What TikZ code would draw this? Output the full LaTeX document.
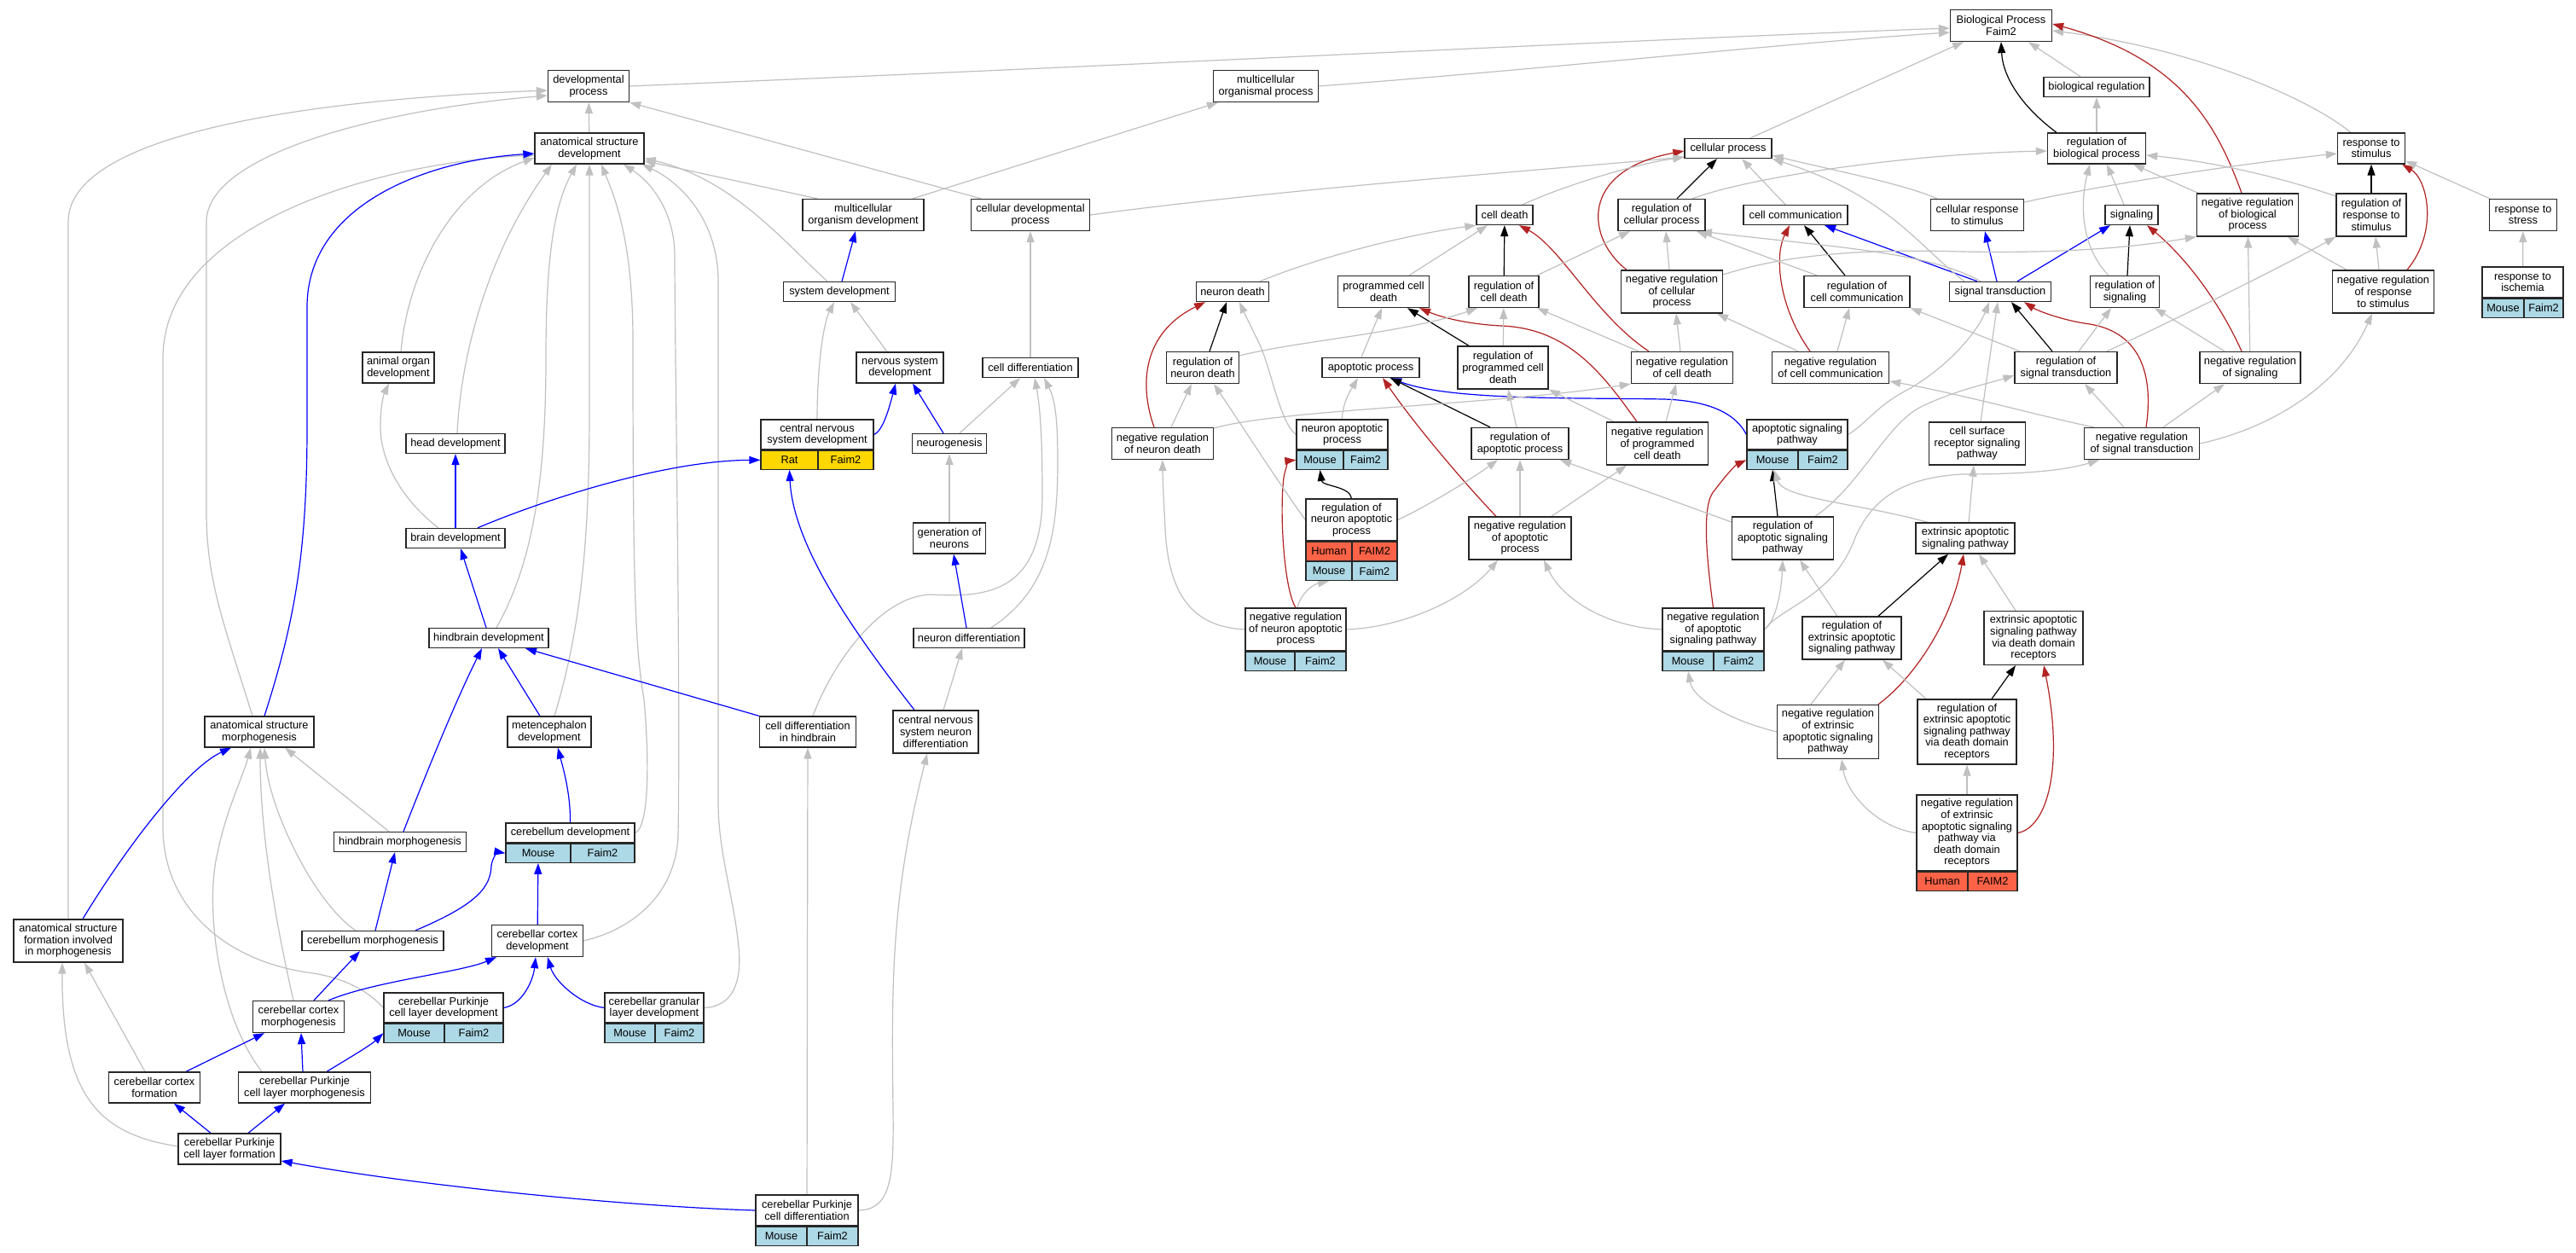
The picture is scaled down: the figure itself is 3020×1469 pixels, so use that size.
\documentclass[tikz,border=0pt]{standalone}
\usepackage{fontspec}
\setmainfont{Liberation Sans}
\usetikzlibrary{arrows.meta}
\definecolor{eg}{HTML}{C0C0C0}
\definecolor{lb}{HTML}{ADD8E6}
\definecolor{gd}{HTML}{FFD700}
\definecolor{tm}{HTML}{FF6347}
\definecolor{rd}{HTML}{B22222}
\definecolor{bl}{HTML}{0000FF}
\pgfdeclarelayer{bg}
\pgfsetlayers{bg,main}
\tikzset{
 term/.style={draw=black!85, line width=1.3pt, fill=white, align=center, inner sep=0pt, font=\fontsize{12.8}{13.6}\selectfont},
 cellbox/.style={draw=black!85, line width=1.3pt, fill=#1, inner sep=0pt, minimum height=22pt, font=\fontsize{12.8}{13.6}\selectfont},
 conn/.style={line width=1.2pt, -{Triangle[length=13pt,width=9pt]}},
 isa/.style={conn, draw=eg},
 partof/.style={conn, draw=bl},
 reg/.style={conn, draw=black},
 nreg/.style={conn, draw=rd},
}
\newcommand\GO[6]{\node[term,minimum width=#4pt,minimum height=#5pt] (#1) at (#2,#3) {#6};}
\newcommand\CL[6]{\node[cellbox=#6, minimum width=#3pt, anchor=#4] (#1) at (#2) {#5};}
\begin{document}
\begin{tikzpicture}[x=1pt,y=-1pt]
\begin{pgfonlayer}{bg}
\fill[white] (0,0) rectangle (3020,1469);
\end{pgfonlayer}
\useasboundingbox (0,0) rectangle (3020,1469);
% ---------------- nodes
\GO{bp}{2346}{30}{119}{37}{Biological Process\\Faim2}
\GO{dp}{690}{101}{95}{37}{developmental\\process}
\GO{mop}{1484}{101}{123}{37}{multicellular\\organismal process}
\GO{asd}{691}{174}{128}{36}{anatomical structure\\development}
\GO{br}{2458}{102}{124}{23}{biological regulation}
\GO{cp}{2026}{174}{102}{23}{cellular process}
\GO{rbp}{2458}{174}{115}{36}{regulation of\\biological process}
\GO{rs}{2780}{174}{79}{36}{response to\\stimulus}
\GO{mod}{1012}{252}{142}{37}{multicellular\\organism development}
\GO{cdp}{1208}{252}{139}{37}{cellular developmental\\process}
\GO{cdeath}{1764}{252}{66}{23}{cell death}
\GO{rcp}{1948}{252}{102}{37}{regulation of\\cellular process}
\GO{cc}{2105}{252}{122}{23}{cell communication}
\GO{crs}{2318}{252}{109}{37}{cellular response\\to stimulus}
\GO{sig}{2499}{252}{62}{23}{signaling}
\GO{nrbp}{2635}{252}{119}{50}{negative regulation\\of biological\\process}
\GO{rrs}{2780}{252}{82}{50}{regulation of\\response to\\stimulus}
\GO{rstress}{2958}{252}{79}{37}{response to\\stress}
\GO{sd}{984}{342}{131}{23}{system development}
\GO{ndeath}{1445}{342}{85}{23}{neuron death}
\GO{pcd}{1622}{342}{107}{37}{programmed cell\\death}
\GO{rcd}{1763}{342}{82}{37}{regulation of\\cell death}
\GO{nrcp}{1960}{342}{119}{50}{negative regulation\\of cellular\\process}
\GO{rcc}{2177}{342}{124}{37}{regulation of\\cell communication}
\GO{st}{2345}{342}{119}{23}{signal transduction}
\GO{rsig}{2491}{342}{81}{37}{regulation of\\signaling}
\GO{nrrs}{2794}{342}{119}{50}{negative regulation\\of response\\to stimulus}
\GO{risch}{2957.5}{331}{95}{36}{response to\\ischemia}
\GO{aod}{467}{431}{84}{36}{animal organ\\development}
\GO{nsd}{1055}{431}{102}{36}{nervous system\\development}
\GO{cdiff}{1208}{431}{112}{23}{cell differentiation}
\GO{rnd}{1410}{431}{85}{37}{regulation of\\neuron death}
\GO{ap}{1607}{431}{114}{23}{apoptotic process}
\GO{rpcd}{1762}{431}{106}{50}{regulation of\\programmed cell\\death}
\GO{nrcd}{1972}{431}{119}{37}{negative regulation\\of cell death}
\GO{nrcc}{2146}{431}{137}{37}{negative regulation\\of cell communication}
\GO{rst}{2422}{431}{120}{37}{regulation of\\signal transduction}
\GO{nrsig}{2638}{431}{118}{37}{negative regulation\\of signaling}
\GO{hd}{534}{520}{116}{23}{head development}
\GO{cnsd}{958}{509.5}{132}{35}{central nervous\\system development}
\GO{neuro}{1113}{520}{87}{23}{neurogenesis}
\GO{nrnd}{1363}{520}{119}{37}{negative regulation\\of neuron death}
\GO{nap}{1573.5}{509.5}{107}{35}{neuron apoptotic\\process}
\GO{rap}{1782}{520}{114}{37}{regulation of\\apoptotic process}
\GO{nrpcd}{1943}{520}{119}{50}{negative regulation\\of programmed\\cell death}
\GO{asp}{2107}{509.5}{118}{35}{apoptotic signaling\\pathway}
\GO{csrsp}{2318}{520}{113}{50}{cell surface\\receptor signaling\\pathway}
\GO{nrst}{2511}{520}{135}{37}{negative regulation\\of signal transduction}
\GO{bd}{534}{631}{116}{23}{brain development}
\GO{gon}{1113}{631}{85}{36}{generation of\\neurons}
\GO{rnap}{1584.5}{609.5}{107}{49}{regulation of\\neuron apoptotic\\process}
\GO{nrap}{1782}{631}{120}{50}{negative regulation\\of apoptotic\\process}
\GO{rasp}{2090}{631}{119}{50}{regulation of\\apoptotic signaling\\pathway}
\GO{easp}{2304}{631}{116}{36}{extrinsic apoptotic\\signaling pathway}
\GO{hbd}{573}{748}{140}{23}{hindbrain development}
\GO{nd}{1136}{748}{130}{23}{neuron differentiation}
\GO{nrnap}{1519}{738}{118}{50}{negative regulation\\of neuron apoptotic\\process}
\GO{nrasp}{2008.5}{738}{119}{50}{negative regulation\\of apoptotic\\signaling pathway}
\GO{reasp}{2171}{748}{116}{50}{regulation of\\extrinsic apoptotic\\signaling pathway}
\GO{easpddr}{2384}{748}{116}{63}{extrinsic apoptotic\\signaling pathway\\via death domain\\receptors}
\GO{asm}{304}{858}{128}{36}{anatomical structure\\morphogenesis}
\GO{med}{644}{858}{98}{36}{metencephalon\\development}
\GO{cdh}{947}{858}{113}{36}{cell differentiation\\in hindbrain}
\GO{cnsnd}{1097}{858}{100}{50}{central nervous\\system neuron\\differentiation}
\GO{nreasp}{2143}{858}{119}{63}{negative regulation\\of extrinsic\\apoptotic signaling\\pathway}
\GO{reaspddr}{2306}{858}{116}{76}{regulation of\\extrinsic apoptotic\\signaling pathway\\via death domain\\receptors}
\GO{hbm}{469}{987}{155}{23}{hindbrain morphogenesis}
\GO{cbd}{668.5}{976.5}{151}{23}{cerebellum development}
\GO{nreaspddr}{2306}{976.5}{118}{89}{negative regulation\\of extrinsic\\apoptotic signaling\\pathway via\\death domain\\receptors}
\GO{asfim}{80}{1103}{128}{50}{anatomical structure\\formation involved\\in morphogenesis}
\GO{cbm}{437}{1103}{166}{23}{cerebellum morphogenesis}
\GO{ccd}{630}{1103}{107}{37}{cerebellar cortex\\development}
\GO{cpld}{520}{1181.5}{140}{35}{cerebellar Purkinje\\cell layer development}
\GO{cgld}{767}{1181.5}{116}{35}{cerebellar granular\\layer development}
\GO{ccm}{350}{1192}{107}{37}{cerebellar cortex\\morphogenesis}
\GO{ccf}{181}{1275}{107}{36}{cerebellar cortex\\formation}
\GO{cplm}{357}{1275}{155}{36}{cerebellar Purkinje\\cell layer morphogenesis}
\GO{cplf}{269}{1347}{120}{36}{cerebellar Purkinje\\cell layer formation}
\GO{cpcd}{946}{1419}{120}{36}{cerebellar Purkinje\\cell differentiation}
% species rows
\CL{cnsd-a}{cnsd.south west}{67}{north west}{Rat}{gd}
\CL{cnsd-b}{cnsd.south east}{65}{north east}{Faim2}{gd}
\CL{risch-a}{risch.south west}{49}{north west}{Mouse}{lb}
\CL{risch-b}{risch.south east}{46}{north east}{Faim2}{lb}
\CL{nap-a}{nap.south west}{55}{north west}{Mouse}{lb}
\CL{nap-b}{nap.south east}{52}{north east}{Faim2}{lb}
\CL{asp-a}{asp.south west}{60}{north west}{Mouse}{lb}
\CL{asp-b}{asp.south east}{58}{north east}{Faim2}{lb}
\CL{rnap-a}{rnap.south west}{54}{north west}{Human}{tm}
\CL{rnap-b}{rnap.south east}{53}{north east}{FAIM2}{tm}
\CL{rnapm-a}{rnap-a.south west}{54}{north west}{Mouse}{lb}
\CL{rnapm-b}{rnap-b.south east}{53}{north east}{Faim2}{lb}
\CL{nrnap-a}{nrnap.south west}{58}{north west}{Mouse}{lb}
\CL{nrnap-b}{nrnap.south east}{60}{north east}{Faim2}{lb}
\CL{nrasp-a}{nrasp.south west}{60}{north west}{Mouse}{lb}
\CL{nrasp-b}{nrasp.south east}{59}{north east}{Faim2}{lb}
\CL{nreaspddr-a}{nreaspddr.south west}{60}{north west}{Human}{tm}
\CL{nreaspddr-b}{nreaspddr.south east}{58}{north east}{FAIM2}{tm}
\CL{cbd-a}{cbd.south west}{76}{north west}{Mouse}{lb}
\CL{cbd-b}{cbd.south east}{75}{north east}{Faim2}{lb}
\CL{cpld-a}{cpld.south west}{71}{north west}{Mouse}{lb}
\CL{cpld-b}{cpld.south east}{69}{north east}{Faim2}{lb}
\CL{cgld-a}{cgld.south west}{59}{north west}{Mouse}{lb}
\CL{cgld-b}{cgld.south east}{57}{north east}{Faim2}{lb}
\CL{cpcd-a}{cpcd.south west}{60}{north west}{Mouse}{lb}
\CL{cpcd-b}{cpcd.south east}{60}{north east}{Faim2}{lb}
% ---------------- edges
\begin{pgfonlayer}{bg}
% left gray
\draw[isa] (dp.east) .. controls (1300,78) and (1950,45) .. ([yshift=-3pt]bp.west);
\draw[isa] (mop.east) .. controls (1800,82) and (2100,50) .. ([yshift=-8pt]bp.west);
\draw[isa] ([xshift=26pt]cp.north) -- ([xshift=-44pt]bp.south);
\draw[isa] ([xshift=-19pt]br.north) -- ([xshift=32pt]bp.south);
\draw[isa] (rbp) -- (br);
\draw[isa] ([xshift=-24pt]rs.north) .. controls (2700,110) and (2560,55) .. ([yshift=-6pt]bp.east);
\draw[isa] (asd) -- (dp);
\draw[isa] ([xshift=-58pt]cdp.north) -- (dp.south east);
\draw[isa] ([xshift=58pt]mod.north) -- ([xshift=-56pt]mop.south);
\draw[isa] ([xshift=-54pt]mod.north) -- ([yshift=4pt]asd.south east);
\draw[isa] ([xshift=-14pt]sd.north) .. controls (920,285) and (860,210) .. ([yshift=7pt]asd.south east);
\draw[isa] (cdp.east) .. controls (1500,222) and (1800,200) .. ([yshift=2pt]cp.south west);
\draw[isa] (cdiff) -- (cdp);
\draw[isa] ([xshift=-15pt]nsd.north) -- ([xshift=13pt]sd.south);
\draw[isa] (cnsd.north) .. controls (958,430) and (965,380) .. ([xshift=-6pt]sd.south);
\draw[isa] ([xshift=12pt]neuro.north) -- ([xshift=-12pt]cdiff.south);
\draw[isa] (gon) -- (neuro);
\draw[isa] ([xshift=6pt]cdh.north) .. controls (975,780) and (1030,700) .. (1090,697) .. controls (1150,700) and (1222,700) .. (1222,580) .. controls (1222,500) and (1218,470) .. ([xshift=5pt]cdiff.south);
\draw[isa] ([xshift=26pt]nd.north) .. controls (1232,690) and (1240,620) .. (1240,540) .. controls (1240,480) and (1235,465) .. ([xshift=16pt]cdiff.south);
\draw[isa] ([xshift=9pt]cnsnd.north) -- ([xshift=-8pt]nd.south);
\draw[isa] (cpcd.east) .. controls (1045,1418) and (1048,1380) .. (1047,1300) .. controls (1045,1150) and (1045,1050) .. ([xshift=-10pt]cnsnd.south);
\draw[isa] (cpcd) -- (cdh);
\draw[isa] ([xshift=-20pt]bd.north) .. controls (470,585) and (446,540) .. (446,500) .. controls (446,475) and (450,462) .. ([xshift=-11pt]aod.south);
\draw[isa] ([xshift=2pt]hd.north) .. controls (540,420) and (570,300) .. ([xshift=-44pt]asd.south);
\draw[isa] ([xshift=3pt]aod.north) .. controls (478,320) and (530,220) .. ([yshift=-11pt]asd.west);
\draw[isa] ([xshift=9pt]hbd.north) .. controls (625,660) and (640,560) .. (640,420) .. controls (640,300) and (650,240) .. ([xshift=-15pt]asd.south);
\draw[isa] ([xshift=6pt]med.north) .. controls (680,740) and (691,640) .. (691,480) -- (asd.south);
\draw[isa] (cbd.east) .. controls (760,970) and (762,900) .. (755,820) .. controls (745,760) and (742,700) .. (742,400) .. controls (742,280) and (720,230) .. ([xshift=14pt]asd.south);
\draw[isa] (ccd.east) .. controls (740,1090) and (792,1050) .. (795,980) .. controls (798,800) and (791,400) .. (791,300) .. controls (791,250) and (765,215) .. ([xshift=40pt]asd.south);
\draw[isa] (cgld.east) .. controls (860,1180) and (870,1150) .. (866,1110) .. controls (860,1050) and (842,1000) .. (842,940) -- (842,330) .. controls (842,260) and (800,215) .. ([xshift=-3pt]asd.south east);
\draw[isa] ([xshift=-8pt]asm.north) .. controls (262,730) and (242,680) .. (242,600) -- (242,260) .. controls (242,180) and (450,128) .. ([yshift=-11pt]dp.west);
\draw[isa] (asfim.north) -- (80,260) .. controls (80,150) and (400,115) .. ([yshift=-5pt]dp.west);
\draw[isa] (cpld.west) .. controls (430,1160) and (400,1145) .. (360,1140) .. controls (260,1125) and (191,1060) .. (191,970) -- (191,420) .. controls (191,260) and (450,190) .. ([yshift=-8pt]asd.west);
\draw[isa] ([xshift=-13pt]hbm.north) -- ([xshift=30pt]asm.south);
\draw[isa] ([xshift=-20pt]cbm.north) .. controls (370,1060) and (315,950) .. ([xshift=6pt]asm.south);
\draw[isa] ([xshift=-6pt]ccm.north) .. controls (325,1090) and (305,980) .. ([xshift=1pt]asm.south);
\draw[isa] ([xshift=-50pt]cplm.north) .. controls (255,1190) and (240,1060) .. (255,1000) .. controls (265,950) and (285,910) .. ([xshift=-10pt]asm.south);
\draw[isa] ([xshift=-11pt]ccf.north) -- ([xshift=19pt]asfim.south);
\draw[isa] ([yshift=3pt]cplf.west) .. controls (120,1330) and (72,1290) .. ([xshift=-7pt]asfim.south);
% left blue
\draw[partof] ([xshift=3pt]sd.north) -- ([xshift=-9pt]mod.south);
\draw[partof] (cnsd.east) .. controls (1035,505) and (1042,480) .. ([xshift=-5pt]nsd.south);
\draw[partof] ([xshift=-7pt]neuro.north) -- ([xshift=15pt]nsd.south);
\draw[partof] ([xshift=-3pt]nd.north) -- ([xshift=5pt]gon.south);
\draw[partof] ([xshift=-25pt]cnsnd.north) .. controls (1000,740) and (930,640) .. (cnsd-a.south);
\draw[partof] (cpcd.west) .. controls (750,1415) and (500,1392) .. ([yshift=-14pt]cplf.east);
\draw[partof] (cdh.north west) -- ([xshift=43pt]hbd.south);
\draw[partof] ([xshift=26pt]bd.north) .. controls (640,585) and (780,540) .. (cnsd-a.west);
\draw[partof] (bd) -- (hd);
\draw[partof] ([xshift=-3pt]hbd.north) -- ([xshift=6pt]bd.south);
\draw[partof] ([xshift=-11pt]med.north) -- ([xshift=11pt]hbd.south);
\draw[partof] ([xshift=4pt]hbm.north) .. controls (510,880) and (540,810) .. ([xshift=-8pt]hbd.south);
\draw[partof] ([xshift=6pt]asm.north) .. controls (345,730) and (360,650) .. (360,500) -- (360,360) .. controls (360,240) and (500,188) .. ([yshift=-6pt]asd.west);
\draw[partof] ([xshift=17pt]asfim.north) .. controls (150,990) and (220,900) .. ([xshift=-33pt]asm.south);
\draw[partof] (cbd.north) .. controls (669,930) and (660,900) .. ([xshift=10pt]med.south);
\draw[partof] ([xshift=3pt]cbm.north) -- ([xshift=-6pt]hbm.south);
\draw[partof] ([xshift=50pt]cbm.north) .. controls (560,1060) and (575,1040) .. (576,1015) .. controls (577,1005) and (585,999) .. (cbd-a.west);
\draw[partof] (ccd) -- (cbd-a);
\draw[partof] (cpld.east) .. controls (612,1178) and (625,1150) .. ([xshift=-2pt]ccd.south);
\draw[partof] (cgld.west) .. controls (680,1178) and (650,1150) .. ([xshift=12pt]ccd.south);
\draw[partof] ([xshift=18pt]ccm.north) -- ([xshift=-15pt]cbm.south);
\draw[partof] ([xshift=35pt]ccm.north) .. controls (440,1150) and (540,1140) .. ([xshift=-48pt]ccd.south);
\draw[partof] ([xshift=-2pt]cplm.north) -- ([xshift=3pt]ccm.south);
\draw[partof] ([xshift=26pt]cplm.north) .. controls (410,1240) and (435,1225) .. (cpld-a.west);
\draw[partof] ([xshift=37pt]ccf.north) -- ([xshift=-40pt]ccm.south);
\draw[partof] ([xshift=-22pt]cplf.north) -- ([xshift=23pt]ccf.south);
\draw[partof] ([xshift=22pt]cplf.north) -- ([xshift=-23pt]cplm.south);
% right blue
\draw[partof] (asp.west) .. controls (2040,495) and (2020,470) .. (1950,468) .. controls (1850,466) and (1700,470) .. ([xshift=23pt]ap.south);
\draw[partof] ([xshift=-27pt]st.north) -- ([xshift=34pt]cc.south);
\draw[partof] ([xshift=-4pt]st.north) -- ([xshift=9pt]crs.south);
\draw[partof] ([xshift=20pt]st.north) -- ([xshift=-25pt]sig.south);
% black
\draw[reg] ([xshift=-47pt]rbp.north) .. controls (2370,125) and (2348,90) .. (bp.south);
\draw[reg] (rrs) -- (rs);
\draw[reg] ([xshift=18pt]rcp.north) -- ([xshift=-13pt]cp.south);
\draw[reg] (rcd) -- (cdeath);
\draw[reg] ([xshift=-14pt]rcc.north) -- ([xshift=10pt]cc.south);
\draw[reg] ([xshift=3pt]rsig.north) -- ([xshift=-2pt]sig.south);
\draw[reg] ([xshift=8pt]rnd.north) -- ([xshift=-7pt]ndeath.south);
\draw[reg] ([xshift=-40pt]rpcd.north) -- ([xshift=28pt]pcd.south);
\draw[reg] ([xshift=-35pt]rap.north) -- ([xshift=23pt]ap.south);
\draw[reg] ([xshift=-16pt]rst.north) -- ([xshift=13pt]st.south);
\draw[reg] (rnap.north) .. controls (1583,570) and (1550,570) .. (nap-a.south);
\draw[reg] ([xshift=-6pt]rasp.north) -- (asp-a.south);
\draw[reg] ([xshift=31pt]reasp.north) -- ([xshift=-20pt]easp.south);
\draw[reg] ([xshift=29pt]reaspddr.north) -- ([xshift=-21pt]easpddr.south);
% red
\draw[nreg] ([xshift=-7pt]nrbp.north) .. controls (2600,150) and (2560,70) .. ([yshift=2pt]bp.east);
\draw[nreg] ([xshift=28pt]nrrs.north) .. controls (2860,270) and (2845,210) .. ([xshift=-4pt]rs.south east);
\draw[nreg] ([xshift=-53pt]nrcp.north) .. controls (1860,280) and (1850,200) .. ([yshift=-3pt]cp.west);
\draw[nreg] ([xshift=-39pt]nrcd.north) .. controls (1870,370) and (1830,290) .. ([xshift=17pt]cdeath.south);
\draw[nreg] ([xshift=-24pt]nrcc.north) .. controls (2085,360) and (2080,300) .. ([xshift=-7pt]cc.south);
\draw[nreg] ([xshift=-10pt]nrsig.north) .. controls (2600,350) and (2560,300) .. ([xshift=18pt]sig.south);
\draw[nreg] ([xshift=5pt]nrst.north) .. controls (2525,440) and (2510,390) .. (2450,380) .. controls (2420,376) and (2390,365) .. ([xshift=28pt]st.south);
\draw[nreg] ([xshift=-10pt]nrnd.north) .. controls (1335,450) and (1340,390) .. ([xshift=-32pt]ndeath.south);
\draw[nreg] ([xshift=-24pt]nrpcd.north) .. controls (1880,440) and (1840,385) .. (1760,382) .. controls (1720,380) and (1690,372) .. ([xshift=42pt]pcd.south);
\draw[nreg] ([xshift=-28pt]nrap.north) .. controls (1720,570) and (1660,500) .. ([xshift=14pt]ap.south);
\draw[nreg] (nrnap.north) .. controls (1505,690) and (1500,600) .. (1505,560) .. controls (1507,548) and (1512,540) .. (nap-a.west);
\draw[nreg] (nrasp.north) .. controls (2000,650) and (1995,590) .. (2010,575) .. controls (2025,555) and (2035,545) .. (asp-a.west);
\draw[nreg] ([xshift=59pt]nreasp.north) .. controls (2250,790) and (2290,720) .. ([xshift=-2pt]easp.south);
\draw[nreg] (nreaspddr.east) .. controls (2400,970) and (2420,900) .. ([xshift=12pt]easpddr.south);
% right gray
\draw[isa] ([xshift=36pt]rcp.north) .. controls (2060,205) and (2250,180) .. ([yshift=-3pt]rbp.west);
\draw[isa] ([xshift=-12pt]cc.north) -- ([xshift=16pt]cp.south);
\draw[isa] ([xshift=21pt]cdeath.north) .. controls (1840,215) and (1920,192) .. ([yshift=2pt]cp.south west);
\draw[isa] ([xshift=-47pt]crs.north) .. controls (2230,215) and (2150,200) .. ([yshift=4pt]cp.south east);
\draw[isa] ([xshift=-42pt]st.north) .. controls (2250,290) and (2215,230) .. (cp.south east);
\draw[isa] ([xshift=-23pt]st.north) .. controls (2260,295) and (2150,290) .. ([xshift=46pt]rcp.south);
\draw[isa] ([yshift=15pt]crs.east) .. controls (2450,220) and (2600,195) .. ([yshift=-6pt]rs.west);
\draw[isa] ([xshift=-9pt]sig.north) -- ([xshift=12pt]rbp.south);
\draw[isa] ([xshift=-19pt]rsig.north) .. controls (2440,290) and (2438,240) .. ([xshift=-8pt]rbp.south);
\draw[isa] ([xshift=-58pt]nrbp.north) -- ([xshift=43pt]rbp.south);
\draw[isa] ([yshift=22pt]rrs.west) .. controls (2680,210) and (2600,190) .. ([yshift=-8pt]rbp.east);
\draw[isa] ([xshift=-39pt]rstress.north) -- ([yshift=4pt]rs.south east);
\draw[isa] (risch) -- (rstress);
\draw[isa] ([xshift=-5pt]nrrs.north) -- ([xshift=5pt]rrs.south);
\draw[isa] ([xshift=-43pt]nrrs.north) -- ([xshift=47pt]nrbp.south);
\draw[isa] ([yshift=20pt]nrcp.east) .. controls (2100,296) and (2200,292) .. (2300,295) .. controls (2450,298) and (2530,285) .. (nrbp.south west);
\draw[isa] ([xshift=-3pt]nrcp.north) -- ([xshift=5pt]rcp.south);
\draw[isa] ([xshift=39pt]rcd.north) -- ([xshift=-37pt]rcp.south);
\draw[isa] ([xshift=-47pt]rcc.north) -- ([xshift=41pt]rcp.south);
\draw[isa] ([xshift=30pt]pcd.north) -- ([xshift=-20pt]cdeath.south);
\draw[isa] ([xshift=32pt]ndeath.north) .. controls (1550,300) and (1650,275) .. (cdeath.south west);
\draw[isa] ([xshift=-11pt]ap.north) -- ([xshift=-2pt]pcd.south);
\draw[isa] (rpcd) -- (rcd);
\draw[isa] ([xshift=-51pt]nrcd.north) -- ([xshift=39pt]rcd.south);
\draw[isa] ([xshift=-2pt]nrcd.north) -- ([xshift=5pt]nrcp.south);
\draw[isa] ([xshift=-38pt]nrcc.north) -- ([xshift=53pt]nrcp.south);
\draw[isa] ([xshift=8pt]nrcc.north) -- ([xshift=-9pt]rcc.south);
\draw[isa] ([yshift=14pt]rnd.east) .. controls (1520,400) and (1650,390) .. ([xshift=-31pt]rcd.south);
\draw[isa] (nap.west) .. controls (1500,495) and (1490,430) .. (1475,400) .. controls (1465,380) and (1458,365) .. ([xshift=8pt]ndeath.south);
\draw[isa] (nap.north) .. controls (1574,470) and (1585,455) .. ([xshift=-15pt]ap.south);
\draw[isa] ([xshift=-4pt]rap.north) -- ([xshift=6pt]rpcd.south);
\draw[isa] ([xshift=-51pt]nrpcd.north) -- (rpcd.south east);
\draw[isa] ([xshift=10pt]nrpcd.north) -- ([xshift=-7pt]nrcd.south);
\draw[isa] ([xshift=10pt]nrnd.north) -- ([xshift=-13pt]rnd.south);
\draw[isa] ([yshift=18pt]nrnd.east) .. controls (1500,480) and (1750,475) .. (nrcd.south west);
\draw[isa] (rnap.west) .. controls (1505,575) and (1450,490) .. ([xshift=13pt]rnd.south);
\draw[isa] (rnap.east) .. controls (1670,595) and (1720,565) .. ([xshift=-26pt]rap.south);
\draw[isa] ([xshift=2pt]nrnap.north) .. controls (1525,695) and (1540,685) .. (rnapm-a.south);
\draw[isa] (nrnap.east) .. controls (1650,735) and (1720,700) .. ([xshift=-26pt]nrap.south);
\draw[isa] (nrnap.west) .. controls (1400,735) and (1370,700) .. (1366,620) .. controls (1364,580) and (1363,560) .. (nrnd.south);
\draw[isa] (nrap) -- (rap);
\draw[isa] ([xshift=37pt]nrap.north) -- ([xshift=-36pt]nrpcd.south);
\draw[isa] ([yshift=19pt]rasp.west) -- ([xshift=47pt]rap.south);
\draw[isa] (nrasp.west) .. controls (1880,735) and (1830,700) .. ([xshift=28pt]nrap.south);
\draw[isa] (nrasp.east) .. controls (2080,730) and (2088,700) .. (rasp.south);
\draw[isa] (nrasp.east) .. controls (2090,710) and (2150,700) .. (2175,630) .. controls (2195,585) and (2230,560) .. (2300,556) .. controls (2370,556) and (2420,552) .. ([xshift=-50pt]nrst.south);
\draw[isa] ([xshift=38pt]rasp.north) .. controls (2180,570) and (2210,500) .. (2250,478) .. controls (2290,458) and (2330,450) .. ([yshift=-9pt]rst.west);
\draw[isa] (asp.east) .. controls (2190,495) and (2200,475) .. (2240,455) .. controls (2290,425) and (2320,385) .. ([xshift=-13pt]st.south);
\draw[isa] ([xshift=4pt]csrsp.north) -- ([xshift=-3pt]st.south);
\draw[isa] ([xshift=-44pt]easp.north) .. controls (2180,590) and (2090,585) .. ([xshift=2pt]asp-a.south);
\draw[isa] ([xshift=4pt]easp.north) -- ([xshift=-4pt]csrsp.south);
\draw[isa] ([xshift=-21pt]easpddr.north) -- ([xshift=16pt]easp.south);
\draw[isa] ([xshift=-17pt]reasp.north) -- ([xshift=20pt]rasp.south);
\draw[isa] ([xshift=-20pt]nreasp.north) -- ([xshift=-8pt]reasp.south);
\draw[isa] (nreasp.west) .. controls (2030,845) and (1985,820) .. (nrasp-a.south);
\draw[isa] ([xshift=-48pt]reaspddr.north) -- ([xshift=36pt]reasp.south);
\draw[isa] (nreaspddr) -- (reaspddr);
\draw[isa] (nreaspddr.west) .. controls (2200,970) and (2165,930) .. ([xshift=16pt]nreasp.south);
\draw[isa] ([xshift=15pt]rst.north) -- ([xshift=-16pt]rsig.south);
\draw[isa] ([xshift=48pt]rst.north) .. controls (2560,370) and (2680,310) .. (rrs.south west);
\draw[isa] ([xshift=-54pt]rst.north) -- (rcc.south east);
\draw[isa] ([xshift=-30pt]nrsig.north) -- ([xshift=35pt]rsig.south);
\draw[isa] (nrsig) -- (nrbp);
\draw[isa] ([xshift=-21pt]nrst.north) -- ([xshift=22pt]rst.south);
\draw[isa] ([xshift=25pt]nrst.north) -- ([xshift=-30pt]nrsig.south);
\draw[isa] (nrst.east) .. controls (2650,505) and (2740,460) .. ([xshift=-13pt]nrrs.south);
\draw[isa] ([xshift=-56pt]nrst.north) .. controls (2400,490) and (2300,462) .. ([yshift=-16pt]nrcc.east);
\end{pgfonlayer}
\end{tikzpicture}
\end{document}
